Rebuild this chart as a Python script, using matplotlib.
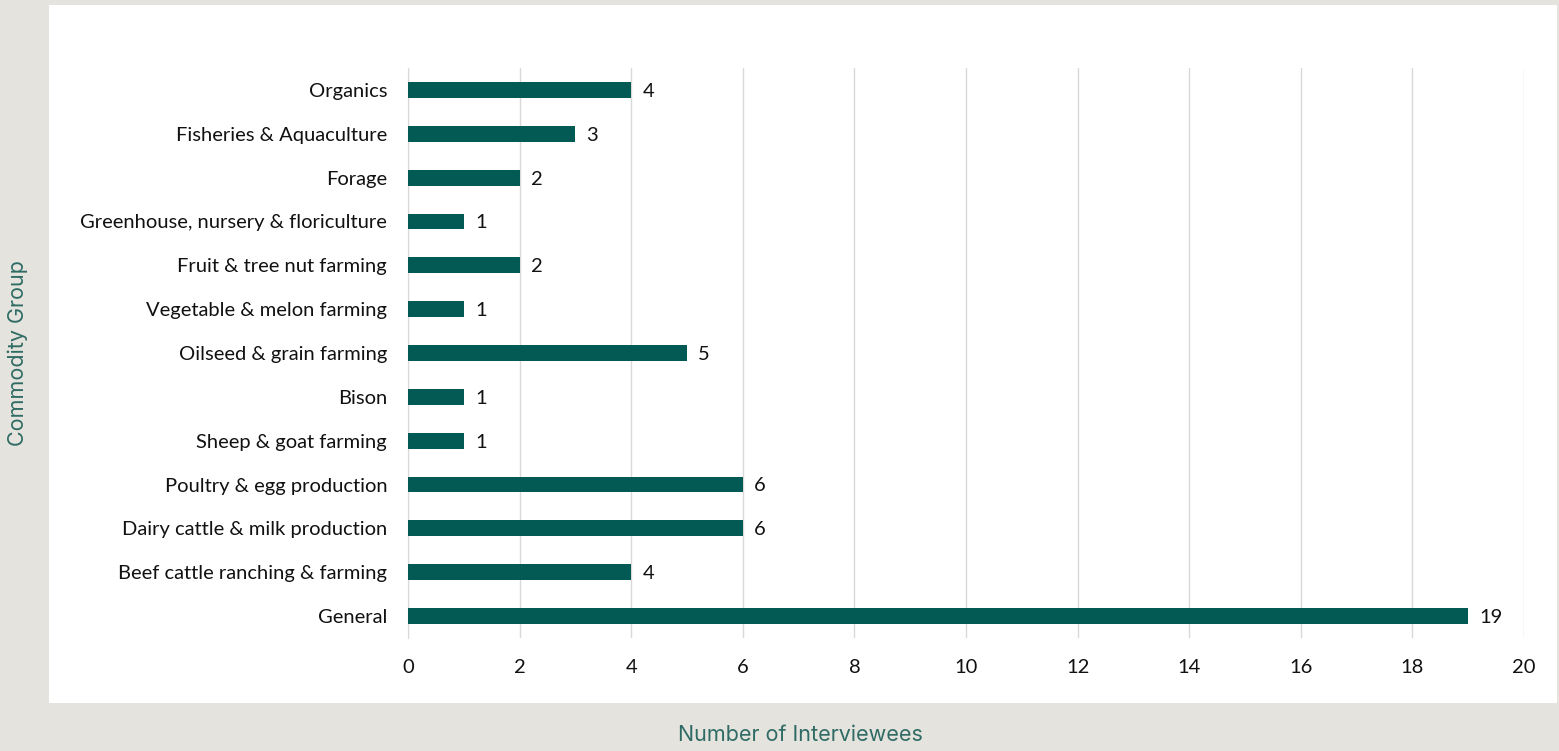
import matplotlib
matplotlib.use("Agg")
import matplotlib.pyplot as plt
from matplotlib.patches import Rectangle

categories = ["General", "Beef cattle ranching & farming", "Dairy cattle & milk production",
              "Poultry & egg production", "Sheep & goat farming", "Bison",
              "Oilseed & grain farming", "Vegetable & melon farming", "Fruit & tree nut farming",
              "Greenhouse, nursery & floriculture", "Forage", "Fisheries & Aquaculture", "Organics"]
values = [19, 4, 6, 6, 1, 1, 5, 1, 2, 1, 2, 3, 4]
xticks = [0, 2, 4, 6, 8, 10, 12, 14, 16, 18, 20]

W, H = 1559, 751
fig = plt.figure(figsize=(W / 100, H / 100), dpi=100, facecolor="#e4e3de")
fig.patches.append(Rectangle((49 / W, (H - 703) / H), (1557 - 49) / W, (703 - 5) / H,
                             transform=fig.transFigure, facecolor="white", edgecolor="none", zorder=-5))

ax = fig.add_axes([408 / W, (H - 638) / H, (1524 - 408) / W, (638 - 68) / H])
ax.set_zorder(2)
ax.set_facecolor("none")
bar_color = "#035a55"
pos = list(range(len(categories)))
ax.barh(pos, values, height=0.36, color=bar_color, zorder=3)
for p, v in zip(pos, values):
    ax.annotate(str(v), (v, p), xytext=(8, -1), textcoords="offset points",
                va="center", ha="left", fontsize=14.5, family="Lato", color="#111111")

ax.set_xlim(0, 20)
ax.set_ylim(-0.5, len(categories) - 0.5)
ax.set_xticks(xticks)
ax.set_xticklabels([str(t) for t in xticks], fontsize=14.5, family="Lato", color="#111111")
ax.set_yticks(pos)
ax.set_yticklabels(categories, fontsize=14.5, family="Lato", color="#111111")
ax.tick_params(axis="both", length=0)
ax.tick_params(axis="x", pad=15)
ax.tick_params(axis="y", pad=15)
ax.grid(axis="x", color="#d9d9d9", linewidth=1, zorder=0)
for s in ["top", "right", "bottom"]:
    ax.spines[s].set_visible(False)
ax.spines["left"].set_color("#d9d9d9")
ax.spines["left"].set_zorder(1)

label_color = "#2f6b64"
fig.text(800 / W, 1 - 735 / H, "Number of Interviewees", ha="center", va="center",
         fontsize=15.5, family="Inter", color=label_color)
fig.text(18 / W, 1 - 353 / H, "Commodity Group", ha="center", va="center", rotation=90,
         fontsize=15.5, family="Inter", color=label_color)

fig.savefig("out.png", dpi=100, facecolor=fig.get_facecolor())
